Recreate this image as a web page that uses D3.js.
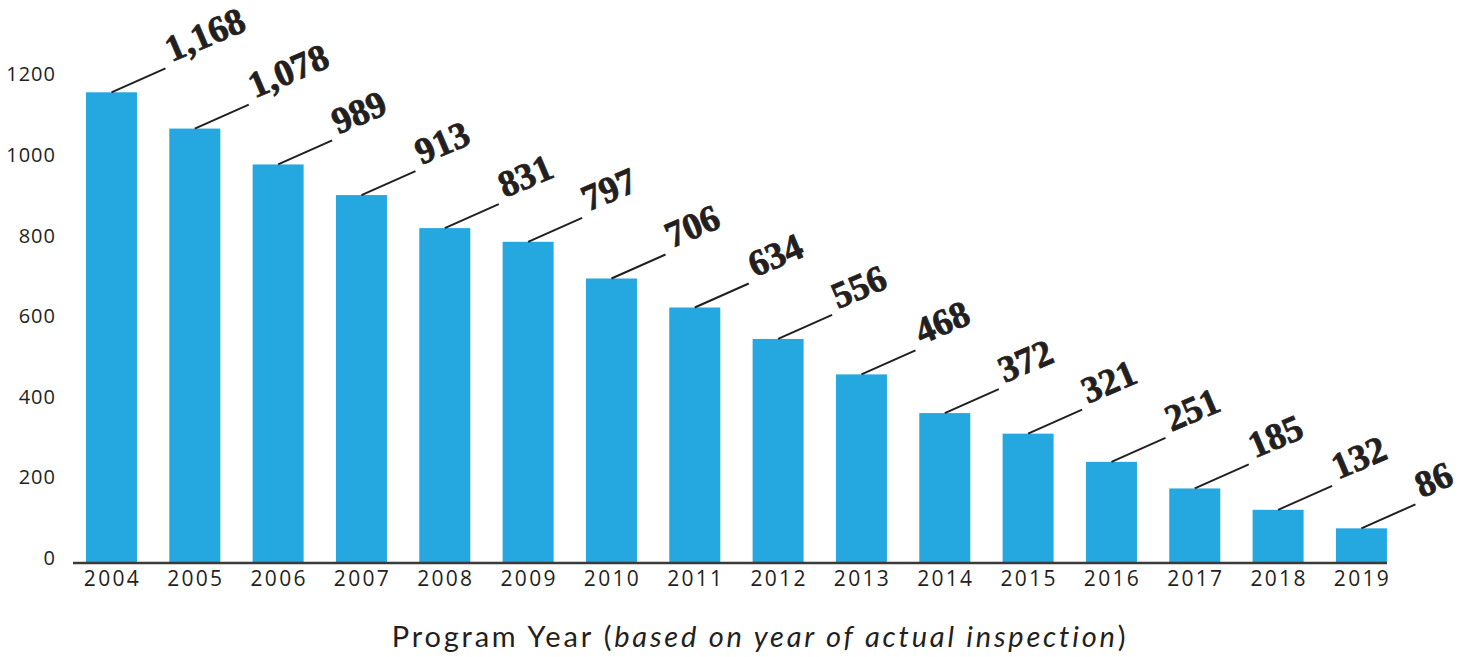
<!DOCTYPE html>
<html>
<head>
<meta charset="utf-8">
<script src="https://cdn.jsdelivr.net/npm/d3@7"></script>
<style>
  body { margin: 0; background: #fff; }
  .tick text { fill: #231f20; }
</style>
</head>
<body>
<div id="chart"></div>
<script>
var svgWidth = 1473;
var svgHeight = 657;

// data
var years = ["2004", "2005", "2006", "2007", "2008", "2009", "2010", "2011",
             "2012", "2013", "2014", "2015", "2016", "2017", "2018", "2019"];
var inspections = [1168, 1078, 989, 913, 831, 797, 706, 634,
                   556, 468, 372, 321, 251, 185, 132, 86];
var labels = ["1,168", "1,078", "989", "913", "831", "797", "706", "634",
              "556", "468", "372", "321", "251", "185", "132", "86"];
var yTicks = [0, 200, 400, 600, 800, 1000, 1200];

var data = years.map(function(y, i) {
  return { year: y, value: inspections[i], label: labels[i] };
});

var svg = d3.select("#chart")
  .append("svg")
  .attr("width", svgWidth)
  .attr("height", svgHeight);

var baseY = 563;

var xScale = d3.scaleBand()
  .domain(years)
  .range([69.8, 1403.1])
  .paddingInner(0.388)
  .paddingOuter(0.194);

var yScale = d3.scaleLinear()
  .domain([0, 1200])
  .range([baseY, baseY - 0.403 * 1200]);

// bars
svg.selectAll("rect.bar")
  .data(data)
  .enter()
  .append("rect")
  .attr("class", "bar")
  .attr("x", d => xScale(d.year))
  .attr("width", xScale.bandwidth())
  .attr("y", d => yScale(d.value))
  .attr("height", d => baseY - yScale(d.value))
  .attr("fill", "#25a8e0");

// y axis
var yAxis = svg.append("g")
  .attr("transform", "translate(56,0)")
  .call(d3.axisLeft(yScale).tickValues(yTicks).tickSize(0).tickPadding(0).tickFormat(d3.format("d")));
yAxis.select(".domain").remove();
yAxis.selectAll("text")
  .attr("y", -5)
  .style("font-family", "'Open Sans', sans-serif")
  .style("font-size", "20px")
  .style("letter-spacing", "1px");

// x axis
var xAxis = svg.append("g")
  .attr("transform", "translate(0," + baseY + ")")
  .call(d3.axisBottom(xScale).tickSize(0).tickPadding(8));
xAxis.select(".domain").remove();
xAxis.selectAll("text")
  .attr("x", 1)
  .style("font-family", "'Open Sans', sans-serif")
  .style("font-size", "21px")
  .style("letter-spacing", "2.3px");

svg.append("line")
  .attr("x1", 73)
  .attr("x2", xScale("2019") + xScale.bandwidth())
  .attr("y1", baseY)
  .attr("y2", baseY)
  .attr("stroke", "#3a3a3a")
  .attr("stroke-width", 2.5);

// leader lines and value labels
var lead = { dx: 54, dy: -24 };

svg.selectAll("line.leader")
  .data(data)
  .enter()
  .append("line")
  .attr("class", "leader")
  .attr("x1", d => xScale(d.year) + xScale.bandwidth() / 2)
  .attr("y1", d => yScale(d.value))
  .attr("x2", d => xScale(d.year) + xScale.bandwidth() / 2 + lead.dx)
  .attr("y2", d => yScale(d.value) + lead.dy)
  .attr("stroke", "#231f20")
  .attr("stroke-width", 2);

svg.selectAll("text.value")
  .data(data)
  .enter()
  .append("text")
  .attr("class", "value")
  .attr("transform", function(d) {
    var x = xScale(d.year) + xScale.bandwidth() / 2 + lead.dx + 6;
    var y = yScale(d.value) + lead.dy - 6;
    return "translate(" + x + "," + y + ") rotate(-23)";
  })
  .style("font-family", "'Liberation Serif', serif")
  .style("font-weight", "bold")
  .style("font-size", "37px")
  .attr("fill", "#231f20")
  .attr("stroke", "#231f20")
  .attr("stroke-width", 0.8)
  .text(d => d.label);

// x axis title
var title = svg.append("text")
  .attr("x", 760)
  .attr("y", 647)
  .attr("text-anchor", "middle")
  .style("font-family", "Lato, sans-serif")
  .style("font-size", "29px")
  .style("letter-spacing", "2.8px")
  .attr("fill", "#231f20");
title.append("tspan").text("Program Year (");
title.append("tspan").style("font-style", "italic").text("based on year of actual inspection");
title.append("tspan").text(")");
</script>
</body>
</html>
